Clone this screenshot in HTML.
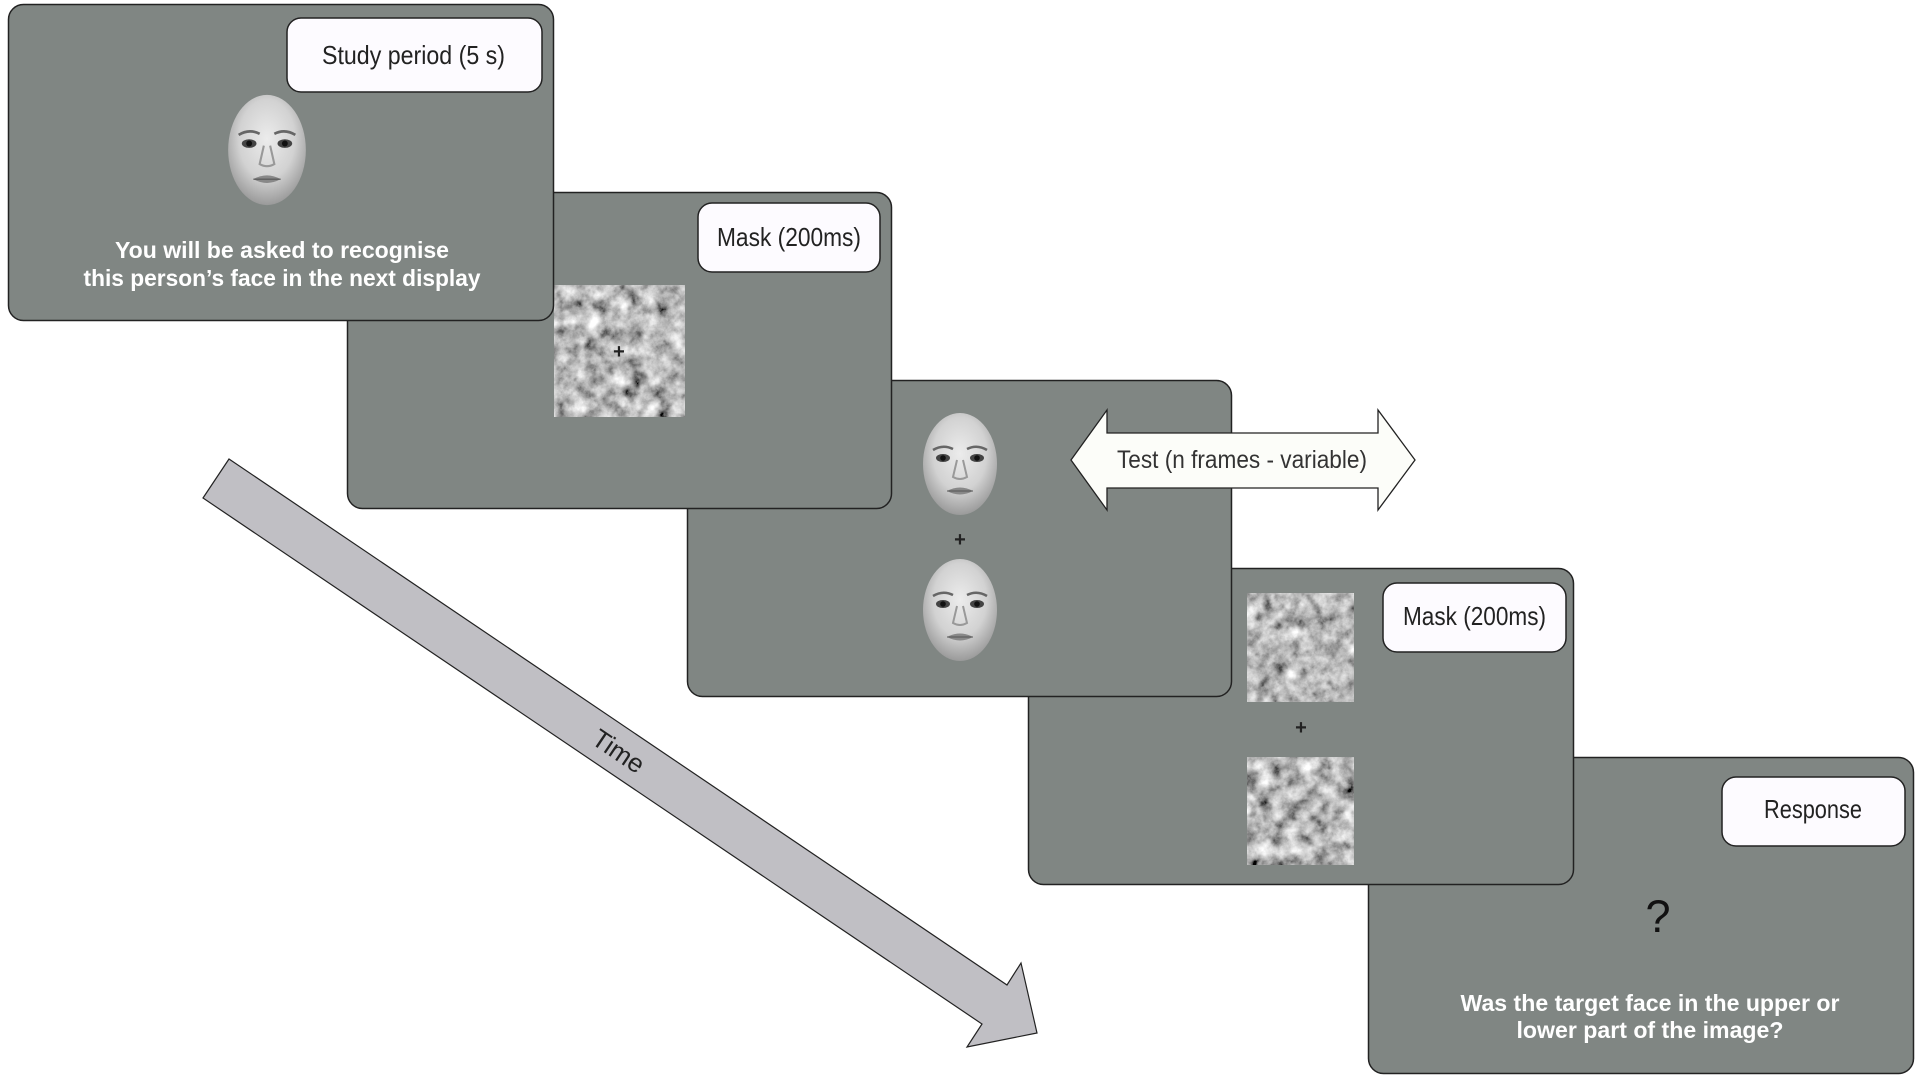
<!DOCTYPE html>
<html><head><meta charset="utf-8"><style>html,body{margin:0;padding:0;background:#fff;}svg{display:block}</style></head>
<body>
<svg width="1920" height="1080" viewBox="0 0 1920 1080" xmlns="http://www.w3.org/2000/svg">
<defs>
<filter id="noise" x="0" y="0" width="100%" height="100%">
<feTurbulence type="fractalNoise" baseFrequency="0.07" numOctaves="5" seed="7"/>
<feColorMatrix type="matrix" values="0.33 0.33 0.33 0 0  0.33 0.33 0.33 0 0  0.33 0.33 0.33 0 0  0 0 0 0 1"/>
<feComponentTransfer><feFuncR type="linear" slope="2.4" intercept="-0.7"/><feFuncG type="linear" slope="2.4" intercept="-0.7"/><feFuncB type="linear" slope="2.4" intercept="-0.7"/></feComponentTransfer>
</filter>
<radialGradient id="skin" cx="50%" cy="40%" r="60%">
<stop offset="0" stop-color="#ececec"/><stop offset="0.6" stop-color="#d2d2d2"/><stop offset="1" stop-color="#9a9a9a"/>
</radialGradient>
<g id="face">
<ellipse cx="0" cy="0" rx="37" ry="51" fill="url(#skin)"/>
<path d="M-27,-14 Q-17,-20 -7,-15" stroke="#666" stroke-width="2.5" fill="none"/>
<path d="M27,-14 Q17,-20 7,-15" stroke="#666" stroke-width="2.5" fill="none"/>
<ellipse cx="-17" cy="-6" rx="7" ry="4" fill="#444"/>
<ellipse cx="17" cy="-6" rx="7" ry="4" fill="#444"/>
<circle cx="-17" cy="-6" r="2.8" fill="#111"/><circle cx="17" cy="-6" r="2.8" fill="#111"/>
<path d="M-3,-4 L-7,13 Q0,17 7,13 L3,-4" stroke="#999" stroke-width="2" fill="none"/>
<path d="M-13,27 Q0,20 13,27 Q0,34 -13,27 Z" fill="#888"/>
<path d="M-13,27 L13,27" stroke="#555" stroke-width="1"/>
</g>
</defs>

<!-- Time arrow -->
<polygon points="229,459 1007,985 1021,963 1037,1033 967,1047 982,1024 203,498" fill="#c0bfc4" stroke="#222" stroke-width="1.2"/>
<text x="618" y="760" font-family="Liberation Sans, sans-serif" font-size="26" fill="#222" transform="rotate(34 618 752)" text-anchor="middle">Time</text>

<!-- Panel 5 -->
<rect x="1368.5" y="757.5" width="545" height="316" rx="15" fill="#808683" stroke="#222" stroke-width="1.5"/>
<rect x="1722" y="777" width="183" height="69" rx="14" fill="#fdfbff" stroke="#222" stroke-width="1.5"/>
<text x="1813" y="818" font-family="Liberation Sans, sans-serif" font-size="26" fill="#222" text-anchor="middle" textLength="98" lengthAdjust="spacingAndGlyphs">Response</text>
<text x="1658" y="932" font-family="Liberation Sans, sans-serif" font-size="45" fill="#111" text-anchor="middle">?</text>
<text x="1650" y="1011" font-family="Liberation Sans, sans-serif" font-weight="bold" font-size="23" fill="#fff" text-anchor="middle" textLength="379" lengthAdjust="spacingAndGlyphs">Was the target face in the upper or</text>
<text x="1650" y="1038" font-family="Liberation Sans, sans-serif" font-weight="bold" font-size="23" fill="#fff" text-anchor="middle" textLength="267" lengthAdjust="spacingAndGlyphs">lower part of the image?</text>

<!-- Panel 4 -->
<rect x="1028.5" y="568.5" width="545" height="316" rx="15" fill="#808683" stroke="#222" stroke-width="1.5"/>
<rect x="1247" y="593" width="107" height="109" filter="url(#noise)"/>
<rect x="1247" y="757" width="107" height="108" filter="url(#noise)"/>
<text x="1301" y="734" font-family="Liberation Sans, sans-serif" font-weight="bold" font-size="20" fill="#222" text-anchor="middle">+</text>
<rect x="1383" y="583" width="183" height="69" rx="14" fill="#fdfbff" stroke="#222" stroke-width="1.5"/>
<text x="1403" y="625" font-family="Liberation Sans, sans-serif" font-size="26" fill="#222" textLength="143" lengthAdjust="spacingAndGlyphs">Mask (200ms)</text>

<!-- Panel 3 -->
<rect x="687.5" y="380.5" width="544" height="316" rx="15" fill="#808683" stroke="#222" stroke-width="1.5"/>
<use href="#face" transform="translate(960,464)"/>
<use href="#face" transform="translate(960,610)"/>
<text x="960" y="546" font-family="Liberation Sans, sans-serif" font-weight="bold" font-size="20" fill="#222" text-anchor="middle">+</text>
<polygon points="1071,460 1107,410 1107,433 1378,433 1378,410 1415,460 1378,510 1378,488 1107,488 1107,510" fill="#fcfdf9" stroke="#222" stroke-width="1.3"/>
<text x="1117" y="468" font-family="Liberation Sans, sans-serif" font-size="25" fill="#333" textLength="250" lengthAdjust="spacingAndGlyphs">Test (n frames - variable)</text>

<!-- Panel 2 -->
<rect x="347.5" y="192.5" width="544" height="316" rx="15" fill="#808683" stroke="#222" stroke-width="1.5"/>
<rect x="554" y="285" width="131" height="132" filter="url(#noise)"/>
<rect x="698" y="203" width="182" height="69" rx="14" fill="#fdfbff" stroke="#222" stroke-width="1.5"/>
<text x="717" y="246" font-family="Liberation Sans, sans-serif" font-size="26" fill="#222" textLength="144" lengthAdjust="spacingAndGlyphs">Mask (200ms)</text>
<text x="619" y="358" font-family="Liberation Sans, sans-serif" font-weight="bold" font-size="20" fill="#222" text-anchor="middle">+</text>

<!-- Panel 1 -->
<rect x="8.5" y="4.5" width="545" height="316" rx="15" fill="#808683" stroke="#222" stroke-width="1.5"/>
<rect x="287" y="18" width="255" height="74" rx="14" fill="#fdfbff" stroke="#222" stroke-width="1.5"/>
<text x="322" y="64" font-family="Liberation Sans, sans-serif" font-size="26" fill="#222" textLength="183" lengthAdjust="spacingAndGlyphs">Study period (5 s)</text>
<use href="#face" transform="translate(267,150) scale(1.05,1.08)"/>
<text x="282" y="258" font-family="Liberation Sans, sans-serif" font-weight="bold" font-size="23" fill="#fff" text-anchor="middle" textLength="334" lengthAdjust="spacingAndGlyphs">You will be asked to recognise</text>
<text x="282" y="286" font-family="Liberation Sans, sans-serif" font-weight="bold" font-size="23" fill="#fff" text-anchor="middle" textLength="397" lengthAdjust="spacingAndGlyphs">this person’s face in the next display</text>
</svg>
</body></html>
